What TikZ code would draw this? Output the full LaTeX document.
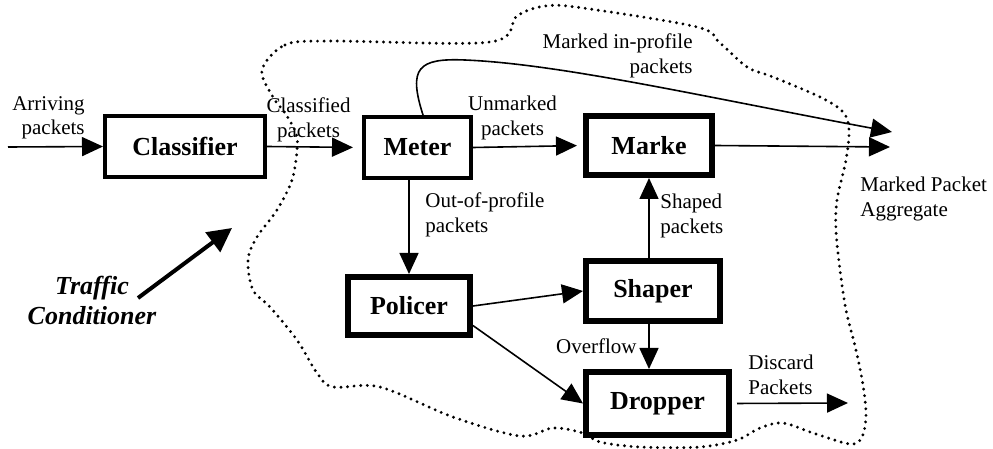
\documentclass[tikz,border=0pt]{standalone}
\usepackage{fontspec}
\setmainfont{Liberation Serif}
\usetikzlibrary{arrows.meta}

\begin{document}
\begin{tikzpicture}[x=0.5pt,y=-0.5pt,
		box/.style={draw,line width=3pt,fill=white,inner sep=0pt,font=\fontsize{13}{15}\selectfont\bfseries},
		thinbox/.style={box,line width=2pt},
		lbl/.style={inner sep=0pt,font=\fontsize{10.5}{12.2}\selectfont},
		flow/.style={line width=0.8pt,-{Triangle[length=10.5pt,width=9.5pt]}}]
	\useasboundingbox (0,0) rectangle (993,449);
	% boundary of the conditioner
	\draw[line width=1.6pt,line cap=round,dash pattern=on 0pt off 3.3pt] plot[smooth cycle,tension=0.55] coordinates {
		(262,70) (285,45) (330,41) (490,42) (517,16) (545,6) (583,8) (697,27) (720,43) (747,67)
		(773,77) (820,97) (843,112) (849,130) (846,160) (837,200) (836,230) (840,270) (846,310)
		(856,350) (863,385) (866,415) (862,437) (850,444) (813,433) (783,423) (760,428) (737,440)
		(700,447) (640,447) (600,442) (583,433) (553,428) (520,436) (453,417) (380,387) (333,387)
		(317,373) (297,340) (270,307) (253,290) (248,260) (257,237) (277,210) (292,180) (297,150)
		(296,133) (285,113) (273,97)};
	% boxes
	\node[thinbox,minimum width=80pt,minimum height=30.5pt] (classifier) at (185,146.5) {Classifier};
	\node[thinbox,minimum width=53.5pt,minimum height=30.5pt] (meter) at (417.5,147.5) {Meter};
	\node[box,minimum width=63pt,minimum height=29.5pt] (marker) at (649,145.5) {Marke};
	\node[box,minimum width=61pt,minimum height=29pt] (policer) at (409,306) {Policer};
	\node[box,minimum width=67pt,minimum height=30pt] (shaper) at (653,291) {Shaper};
	\node[box,minimum width=71.5pt,minimum height=31.5pt] (dropper) at (657.5,403.5) {Dropper};
	% free ends
	\coordinate (arrive) at (8,147);
	\coordinate (aggtop) at (892,132);
	\coordinate (agg) at (890,147);
	\coordinate (discard) at (848,403);
	\coordinate (tcstart) at (138,298);
	\coordinate (tctip) at (232,228);
	% labels
	\node[lbl,align=right,anchor=east] (larrive) at (85,118) {Arriving\\packets};
	\node[lbl,align=center] (lclass) at (308.5,120) {Classified\\packets};
	\node[lbl,align=center] (lunmark) at (512.5,118) {Unmarked\\packets};
	\node[lbl,align=right,anchor=east] (linprof) at (693,56) {Marked in-profile\\packets};
	\node[lbl,align=left,anchor=west] (loutprof) at (425,215) {Out-of-profile\\packets};
	\node[lbl,align=left,anchor=west] (lshaped) at (660,216) {Shaped\\packets};
	\node[lbl,align=left,anchor=west] (lagg) at (860,199) {Marked Packet\\Aggregate};
	\node[lbl,anchor=east] (lover) at (637,346) {Overflow};
	\node[lbl,align=left,anchor=west] (ldiscard) at (748,375) {Discard\\Packets};
	\node[inner sep=0pt,align=center,font=\fontsize{13}{15}\selectfont\bfseries\itshape] (ltc) at (92,300) {Traffic\\Conditioner};
	% connectors
	\draw[flow] (arrive) -- (classifier.west);
	\draw[flow,shorten >=4.5pt] (classifier.east) -- (meter.west);
	\draw[flow,shorten >=3pt] (meter.east) -- (marker.west);
	\draw[flow] (marker.east) -- (agg);
	\draw[flow] ([xshift=2.75pt]meter.north) .. controls (408,68) and (418,58) .. (465,60)
		.. controls (560,64) and (700,96) .. (aggtop);
	\draw[flow] (meter.south -| policer.north) -- (policer.north);
	\draw[flow] (shaper.north -| marker.south) -- (marker.south);
	\draw[flow] (policer.east) -- (shaper.west);
	\draw[flow] (policer.-17) -- (dropper.west);
	\draw[flow] (shaper.south -| marker.south) -- (marker.south |- dropper.north);
	\draw[flow,shorten <=2.5pt] (dropper.east) -- (discard);
	\draw[line width=2pt,-{Triangle[length=12pt,width=12pt]}] (tcstart) -- (tctip);
\end{tikzpicture}
\end{document}
